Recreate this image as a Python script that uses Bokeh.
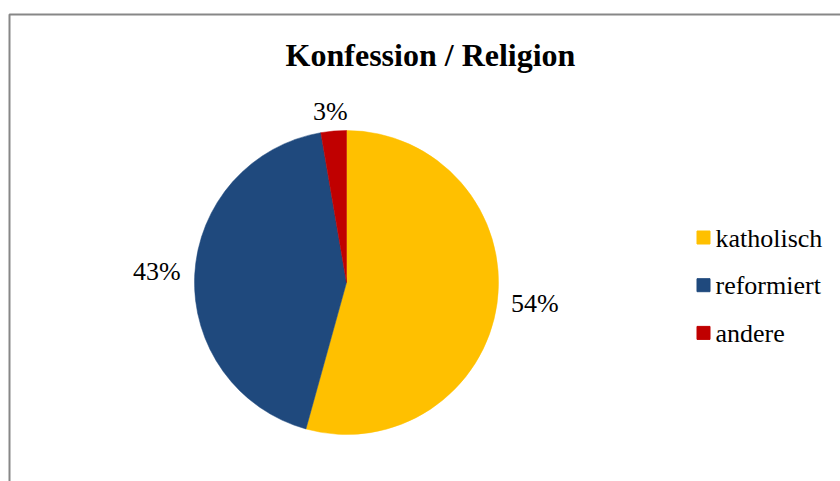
import math
from bokeh.plotting import figure
from bokeh.models import Range1d, ColumnDataSource
from bokeh.core.properties import value
from bokeh.embed import file_html
from bokeh.resources import INLINE

# ---- data ----
title_text = "Konfession / Religion"
categories = ["katholisch", "reformiert", "andere"]
shares = [54.3, 43.0, 2.7]
colors = ["#FFC000", "#1F497D", "#C00000"]

# ---- layout / style constants ----
W, H = 840, 481
FONT = "'Times New Roman', 'Liberation Serif', serif"
CX, CY_IMG, R = 346, 282, 152
RX_LABEL, RY_LABEL = 190, 170

def Y(y_img):
    return H - y_img

p = figure(width=W, height=H, output_backend="svg", toolbar_location=None,
           x_range=Range1d(0, W), y_range=Range1d(0, H), min_border=0,
           outline_line_color=None, background_fill_color="white",
           border_fill_color="white")
p.axis.visible = False
p.grid.visible = False

# chart border (frame of the chart area, partly outside the window)
p.line(x=[9, 9, W + 20], y=[Y(H + 20), Y(14), Y(14)], line_color="#878787", line_width=2)

# pie slices, clockwise from 12 o'clock
total = sum(shares)
cum = 0.0
starts, ends, mids = [], [], []
for v in shares:
    f0 = cum / total
    f1 = (cum + v) / total
    starts.append(math.pi / 2 - 2 * math.pi * f0)
    ends.append(math.pi / 2 - 2 * math.pi * f1)
    mids.append(2 * math.pi * (f0 + f1) / 2)
    cum += v

src = ColumnDataSource(dict(start=starts, end=ends, color=colors, cat=categories))
p.wedge(x=CX, y=Y(CY_IMG), radius=R, start_angle="start", end_angle="end",
        direction="clock", fill_color="color", line_color="color", line_width=0.5, source=src)

# data labels outside the slices
lx, ly, lt = [], [], []
for v, a in zip(shares, mids):
    dx = math.sin(a)
    dy = math.cos(a)
    lx.append(CX + dx * RX_LABEL)
    ly.append(Y(CY_IMG) + dy * RY_LABEL + 2)
    lt.append(f"{round(v)}%")
p.text(x=lx, y=ly, text=lt, text_font=value(FONT), text_font_size="26px",
       text_align="center", text_baseline="middle", text_color="black")

# title
p.text(x=[430], y=[Y(54)], text=[title_text], text_font=value(FONT),
       text_font_size="32px", text_font_style="bold", text_align="center",
       text_baseline="middle", text_color="black")

# legend (manual)
leg_y = [Y(237 + i * 47.7) for i in range(len(categories))]
p.scatter(x=[703] * len(categories), y=leg_y, marker="square", size=13,
          fill_color=colors, line_color=colors)
p.text(x=[715] * len(categories), y=[y - 0.5 for y in leg_y], text=categories,
       text_font=value(FONT), text_font_size="26px", text_align="left",
       text_baseline="middle", text_color="black")

open("out.html", "w").write(file_html(p, INLINE))
